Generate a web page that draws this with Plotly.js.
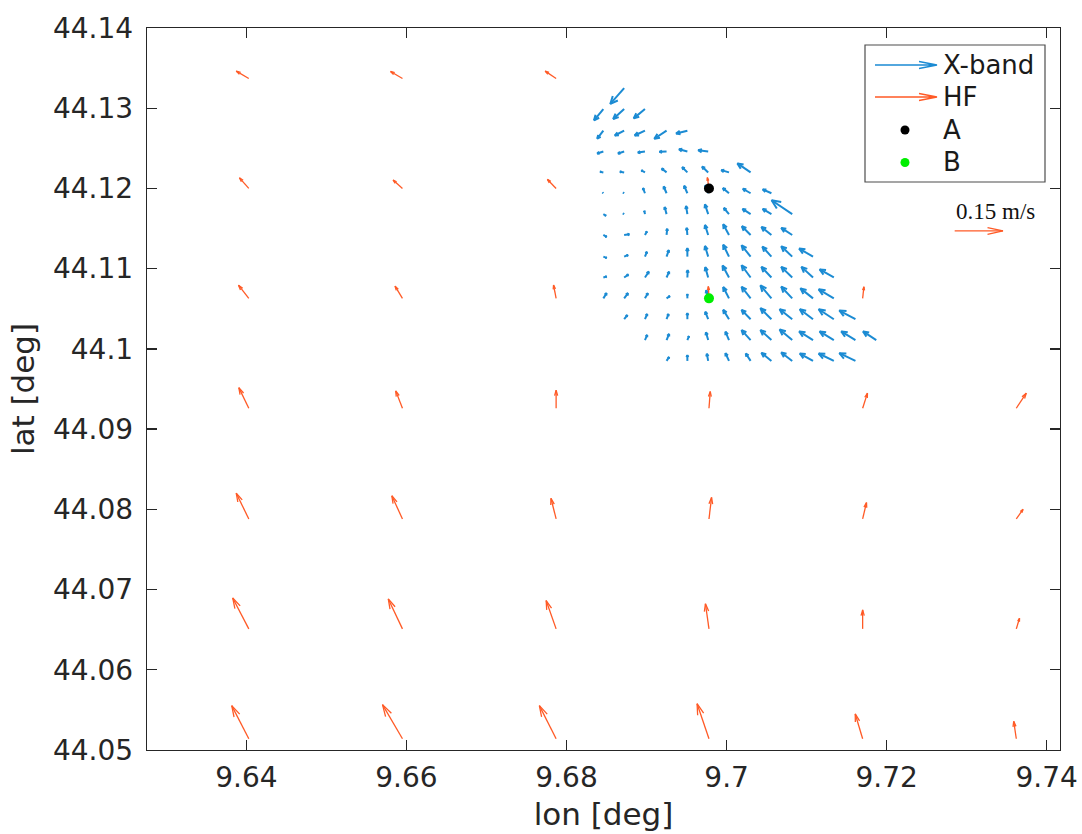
<!DOCTYPE html>
<html>
<head>
<meta charset="utf-8">
<script src="https://cdn.plot.ly/plotly-3.0.1.min.js"></script>
<style>
html,body{margin:0;padding:0;background:#ffffff;}
#chart{width:1082px;height:834px;}
</style>
</head>
<body>
<div id="chart"></div>
<script>
// ---------------- DATA ----------------
const N = null;

// HF radar grid (tail positions) and velocity components [m/s]
const hfLon = [9.6403, 9.6595, 9.6787, 9.6978, 9.7170, 9.7362];
const hfLat = [44.1337, 44.1200, 44.1063, 44.0926, 44.0788, 44.0651, 44.0514];
const hfU = [
  [-0.039, -0.037, -0.034,      N,      N,      N],
  [-0.029, -0.029, -0.027, -0.005,      N,      N],
  [-0.032, -0.023, -0.008, -0.002,  0.004,      N],
  [-0.031, -0.021,  0.000,  0.004,  0.015,  0.031],
  [-0.039, -0.033, -0.016,  0.008,  0.012,  0.021],
  [-0.050, -0.044, -0.031, -0.011,  0.000,  0.010],
  [-0.053, -0.062, -0.052, -0.037, -0.023, -0.008]
];
const hfV = [
  [ 0.023,  0.022,  0.023,      N,      N,      N],
  [ 0.033,  0.026,  0.028,  0.034,      N,      N],
  [ 0.041,  0.038,  0.041,  0.037,  0.036,      N],
  [ 0.064,  0.054,  0.056,  0.052,  0.047,  0.047],
  [ 0.080,  0.072,  0.064,  0.067,  0.051,  0.030],
  [ 0.096,  0.093,  0.088,  0.078,  0.059,  0.033],
  [ 0.103,  0.106,  0.103,  0.109,  0.077,  0.054]
];

// X-band radar grid (tail positions) and velocity components [m/s]
const xbLon = [9.6846, 9.6872, 9.6898, 9.6925, 9.6951, 9.6977, 9.7003,
               9.7030, 9.7056, 9.7082, 9.7108, 9.7134, 9.7161, 9.7187];
const xbLat = [44.1325, 44.1299, 44.1272, 44.1246, 44.1220, 44.1194, 44.1168,
               44.1142, 44.1115, 44.1089, 44.1063, 44.1037, 44.1011, 44.0985];
const xbU = [
  [     N, -0.043,      N,      N,      N,      N,      N,      N,      N,      N,      N,      N,      N,      N],
  [-0.029, -0.034, -0.035,      N,      N,      N,      N,      N,      N,      N,      N,      N,      N,      N],
  [-0.019, -0.029, -0.032, -0.038, -0.035,      N,      N,      N,      N,      N,      N,      N,      N,      N],
  [-0.019, -0.019, -0.022, -0.022, -0.026, -0.031,      N,      N,      N,      N,      N,      N,      N,      N],
  [-0.010, -0.013, -0.011, -0.015, -0.016, -0.019, -0.024, -0.041,      N,      N,      N,      N,      N,      N],
  [-0.002, -0.003, -0.006, -0.009, -0.010, -0.009, -0.019, -0.024, -0.027,      N,      N,      N,      N,      N],
  [ 0.008, -0.003, -0.002, -0.006, -0.004, -0.010, -0.016, -0.025, -0.027, -0.064,      N,      N,      N,      N],
  [ 0.010,  0.016,  0.006,  0.002, -0.002, -0.010, -0.018, -0.027, -0.031, -0.034,      N,      N,      N,      N],
  [ 0.010,  0.012,  0.006,  0.007,  0.000, -0.010, -0.018, -0.028, -0.028, -0.034, -0.043,      N,      N,      N],
  [ 0.010,  0.013,  0.012,  0.008,  0.001, -0.009, -0.020, -0.028, -0.031, -0.034, -0.036, -0.044,      N,      N],
  [ 0.010,  0.012,  0.009,  0.010,  0.000, -0.006, -0.018, -0.028, -0.034, -0.034, -0.039, -0.047,      N,      N],
  [     N,  0.010,  0.007,  0.006,  0.000, -0.009, -0.018, -0.028, -0.034, -0.039, -0.041, -0.047, -0.050,      N],
  [     N,      N,  0.007,  0.008,  0.005, -0.007, -0.011, -0.028, -0.034, -0.039, -0.043, -0.044, -0.044, -0.041],
  [     N,      N,      N,  0.008,  0.000, -0.004, -0.011, -0.015, -0.031, -0.034, -0.041, -0.047, -0.050,      N]
];
const xbV = [
  [     N, -0.049,      N,      N,      N,      N,      N,      N,      N,      N,      N,      N,      N,      N],
  [-0.035, -0.031, -0.029,      N,      N,      N,      N,      N,      N,      N,      N,      N,      N,      N],
  [-0.025, -0.015, -0.015, -0.025, -0.009,      N,      N,      N,      N,      N,      N,      N,      N,      N],
  [-0.006, -0.006, -0.003, -0.001,  0.007,  0.004,      N,      N,      N,      N,      N,      N,      N,      N],
  [ 0.002,  0.002,  0.006,  0.012,  0.016,  0.018,  0.007,  0.028,      N,      N,      N,      N,      N,      N],
  [ 0.002,  0.002,  0.016,  0.021,  0.023,  0.025,  0.016,  0.014,  0.012,      N,      N,      N,      N,      N],
  [-0.005,  0.002,  0.010,  0.022,  0.025,  0.030,  0.019,  0.016,  0.016,  0.043,      N,      N,      N,      N],
  [-0.006,  0.002,  0.011,  0.019,  0.022,  0.031,  0.033,  0.027,  0.025,  0.022,      N,      N,      N,      N],
  [-0.004,  0.005,  0.015,  0.020,  0.026,  0.033,  0.037,  0.035,  0.031,  0.032,  0.025,      N,      N,      N],
  [ 0.003,  0.009,  0.018,  0.018,  0.023,  0.032,  0.037,  0.038,  0.033,  0.033,  0.033,  0.025,      N,      N],
  [ 0.016,  0.016,  0.016,  0.007,  0.013,  0.025,  0.035,  0.036,  0.040,  0.036,  0.031,  0.028,      N,      N],
  [     N,  0.013,  0.016,  0.016,  0.019,  0.023,  0.029,  0.029,  0.034,  0.031,  0.031,  0.031,  0.027,      N],
  [     N,      N,  0.016,  0.019,  0.012,  0.024,  0.026,  0.031,  0.031,  0.033,  0.027,  0.027,  0.027,  0.027],
  [     N,      N,      N,  0.012,  0.018,  0.022,  0.024,  0.023,  0.025,  0.026,  0.023,  0.023,  0.024,      N]
];

// Measurement points
const pointNames = ['A', 'B'];
const pointLon = [9.6978, 9.6978];
const pointLat = [44.1200, 44.1063];

// Reference arrow
const refSpeed = 0.15;          // m/s
const refLabel = '0.15 m/s';
const refLon = 9.7285;
const refLat = 44.1147;

// Axis ticks
const xTickVals = [9.64, 9.66, 9.68, 9.70, 9.72, 9.74];
const yTickVals = [44.05, 44.06, 44.07, 44.08, 44.09, 44.10, 44.11, 44.12, 44.13, 44.14];

// ---------------- LAYOUT / STYLE ----------------
const W = 1082, H = 834;
const M = {l: 147, r: 22, t: 28, b: 84};
const xRange = [9.62758, 9.74166];
const yRange = [44.05, 44.14];
const plotW = W - M.l - M.r, plotH = H - M.t - M.b;
const pxPerDegX = plotW / (xRange[1] - xRange[0]);
const pxPerDegY = plotH / (yRange[1] - yRange[0]);
const pxPerMS = 322;   // quiver scale: pixels per m/s

const blue = '#1b8bd3';
const orange = '#ff5a26';
const axisCol = '#262626';
const FONT = 'DejaVu Sans, Verdana, sans-serif';

// Build quiver line geometry (tail at grid point, open V head at tip)
function quiver(lons, lats, U, V, headLen, headHalf) {
  const xs = [], ys = [];
  for (let j = 0; j < lats.length; j++) {
    for (let i = 0; i < lons.length; i++) {
      const u = U[j][i], v = V[j][i];
      if (u === null || v === null) continue;
      const x0 = lons[i], y0 = lats[j];
      const dxp = u * pxPerMS, dyp = v * pxPerMS;
      const L = Math.hypot(dxp, dyp);
      const x1 = x0 + dxp / pxPerDegX, y1 = y0 + dyp / pxPerDegY;
      xs.push(x0, x1, null); ys.push(y0, y1, null);
      if (L < 0.5) continue;
      const ux = dxp / L, uy = dyp / L;
      const hl = headLen * L, hw = headHalf * L;
      const bx = -ux * hl, by = -uy * hl;
      const nx = -uy * hw, ny = ux * hw;
      xs.push(x1 + (bx + nx) / pxPerDegX, x1, x1 + (bx - nx) / pxPerDegX, null);
      ys.push(y1 + (by + ny) / pxPerDegY, y1, y1 + (by - ny) / pxPerDegY, null);
    }
  }
  return {xs, ys};
}

const xb = quiver(xbLon, xbLat, xbU, xbV, 0.36, 0.16);
const hf = quiver(hfLon, hfLat, hfU, hfV, 0.30, 0.085);
const ref = quiver([refLon], [refLat], [[refSpeed]], [[0]], 0.32, 0.07);

const traces = [
  {type: 'scatter', mode: 'lines', x: xb.xs, y: xb.ys, name: 'X-band',
   line: {color: blue, width: 2}, hoverinfo: 'skip', showlegend: false, connectgaps: false},
  {type: 'scatter', mode: 'lines', x: hf.xs, y: hf.ys, name: 'HF',
   line: {color: orange, width: 1.3}, hoverinfo: 'skip', showlegend: false, connectgaps: false},
  {type: 'scatter', mode: 'lines', x: ref.xs, y: ref.ys, name: 'scale',
   line: {color: orange, width: 1.3}, hoverinfo: 'skip', showlegend: false, connectgaps: false},
  {type: 'scatter', mode: 'markers', x: [pointLon[0]], y: [pointLat[0]], name: pointNames[0],
   marker: {color: '#000000', size: 10}, showlegend: false},
  {type: 'scatter', mode: 'markers', x: [pointLon[1]], y: [pointLat[1]], name: pointNames[1],
   marker: {color: '#00ee00', size: 10}, showlegend: false}
];

// Custom legend (box, arrow samples, dots, labels) in paper coordinates
function px2paperX(px) { return (px - M.l) / plotW; }
function px2paperY(py) { return (H - M.b - py) / plotH; }
function arrowPath(x0, x1, y, hl, hw) {
  const X0 = px2paperX(x0), X1 = px2paperX(x1), XB = px2paperX(x1 - hl);
  const Y = px2paperY(y), YU = px2paperY(y - hw), YD = px2paperY(y + hw);
  return `M ${X0},${Y} L ${X1},${Y} M ${XB},${YU} L ${X1},${Y} L ${XB},${YD}`;
}
const shapes = [
  {type: 'rect', xref: 'paper', yref: 'paper',
   x0: px2paperX(865), x1: px2paperX(1045), y0: px2paperY(182), y1: px2paperY(45),
   line: {color: '#4d4d4d', width: 1.2}, fillcolor: 'rgba(255,255,255,1)', layer: 'above'},
  {type: 'path', xref: 'paper', yref: 'paper', path: arrowPath(875, 937, 65, 18, 3.5),
   line: {color: blue, width: 1.3}, layer: 'above'},
  {type: 'path', xref: 'paper', yref: 'paper', path: arrowPath(875, 937, 97, 18, 3.5),
   line: {color: orange, width: 1.3}, layer: 'above'},
  {type: 'circle', xref: 'paper', yref: 'paper',
   x0: px2paperX(900.5), x1: px2paperX(909.5), y0: px2paperY(134.5), y1: px2paperY(125.5),
   fillcolor: '#000000', line: {color: '#000000', width: 0}, layer: 'above'},
  {type: 'circle', xref: 'paper', yref: 'paper',
   x0: px2paperX(900.5), x1: px2paperX(909.5), y0: px2paperY(167), y1: px2paperY(158),
   fillcolor: '#00ee00', line: {color: '#00ee00', width: 0}, layer: 'above'}
];
const legendLabels = ['X-band', 'HF', pointNames[0], pointNames[1]];
const legendY = [65, 97, 130, 162];
const annotations = legendLabels.map((t, k) => ({
  xref: 'paper', yref: 'paper', x: px2paperX(941), y: px2paperY(legendY[k]),
  xanchor: 'left', yanchor: 'middle', text: t, showarrow: false,
  font: {family: FONT, size: 26, color: '#1a1a1a'}
}));
annotations.push({
  xref: 'paper', yref: 'paper', x: px2paperX(954), y: px2paperY(211),
  xanchor: 'left', yanchor: 'middle', text: refLabel, showarrow: false,
  font: {family: 'Liberation Serif, Times New Roman, serif', size: 23, color: '#111111'}
});

const axisCommon = {
  showgrid: false, zeroline: false, showline: true, mirror: 'ticks',
  linecolor: axisCol, linewidth: 1.3,
  ticks: 'inside', ticklen: 10, tickwidth: 1.3, tickcolor: axisCol,
  tickfont: {family: FONT, size: 28, color: axisCol},
  fixedrange: true
};

const layout = {
  width: W, height: H,
  margin: M,
  paper_bgcolor: '#ffffff', plot_bgcolor: '#ffffff',
  showlegend: false,
  xaxis: Object.assign({}, axisCommon, {
    range: xRange, tickmode: 'array', tickvals: xTickVals,
    ticktext: xTickVals.map(v => String(+v.toFixed(2))),
    ticklabelstandoff: 2,
    title: {text: 'lon [deg]', font: {family: FONT, size: 31, color: axisCol}, standoff: 10}
  }),
  yaxis: Object.assign({}, axisCommon, {
    range: yRange, tickmode: 'array', tickvals: yTickVals,
    ticktext: yTickVals.map(v => String(+v.toFixed(2))),
    ticklabelstandoff: 7,
    title: {text: 'lat [deg]', font: {family: FONT, size: 31, color: axisCol}, standoff: 9}
  }),
  shapes: shapes,
  annotations: annotations
};

Plotly.newPlot('chart', traces, layout, {displayModeBar: false, staticPlot: true});
</script>
</body>
</html>
